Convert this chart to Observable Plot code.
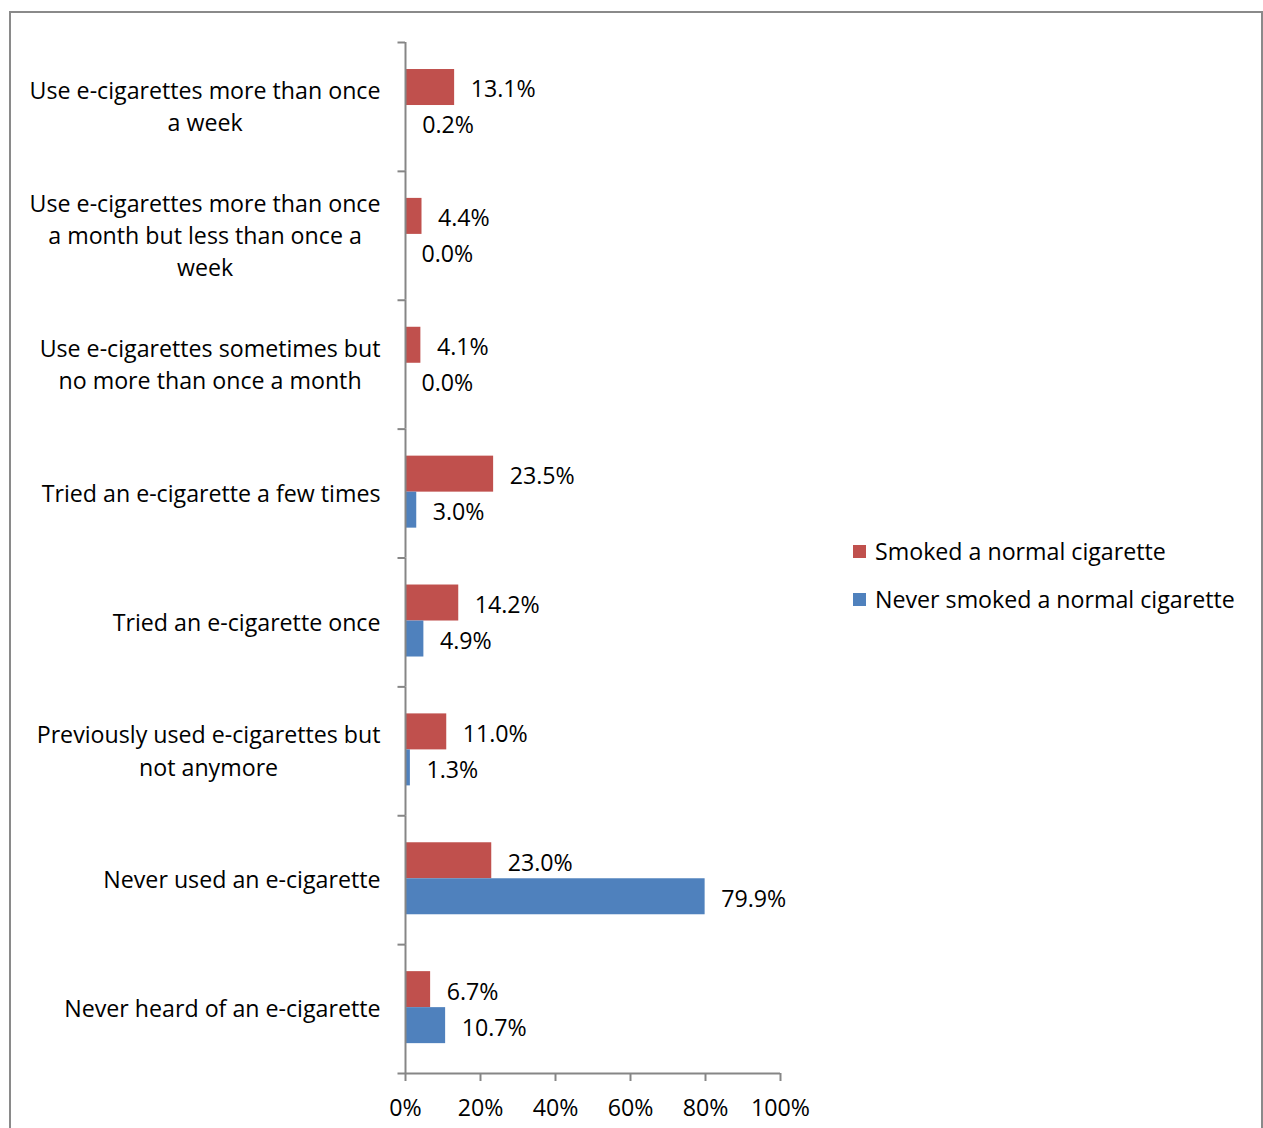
<!DOCTYPE html>
<html><head><meta charset="utf-8">
<script src="https://cdn.jsdelivr.net/npm/d3@7"></script>
<script src="https://cdn.jsdelivr.net/npm/@observablehq/plot@0.6"></script>
<style>
html,body{margin:0;padding:0;background:#fff;overflow:hidden;width:1263px;height:1128px;}
#frame{position:absolute;left:9px;top:11px;width:1254px;height:1300px;border:2px solid #8a8a8a;box-sizing:border-box;}
#chart{position:absolute;left:0;top:0;}
#legend{position:absolute;left:853px;top:527px;font-family:"Open Sans",sans-serif;font-size:23.2px;color:#000;}
#legend .row{display:flex;align-items:center;height:48px;white-space:nowrap;}
#legend .sw{width:13px;height:13px;margin-right:9px;flex:none;}
</style>
</head><body>
<div id="frame"></div>
<div id="chart"></div>
<div id="legend"></div>
<script>
const categories = [
  "Use e-cigarettes more than once a week",
  "Use e-cigarettes more than once a month but less than once a week",
  "Use e-cigarettes sometimes but no more than once a month",
  "Tried an e-cigarette a few times",
  "Tried an e-cigarette once",
  "Previously used e-cigarettes but not anymore",
  "Never used an e-cigarette",
  "Never heard of an e-cigarette"
];
const tickLabels = [
  "Use e-cigarettes more than once\na week",
  "Use e-cigarettes more than once\na month but less than once a\nweek",
  "Use e-cigarettes sometimes but\nno more than once a month",
  "Tried an e-cigarette a few times",
  "Tried an e-cigarette once",
  "Previously used e-cigarettes but\nnot anymore",
  "Never used an e-cigarette",
  "Never heard of an e-cigarette"
];
const seriesNames = ["Smoked a normal cigarette", "Never smoked a normal cigarette"];
const smoked = [13.1, 4.4, 4.1, 23.5, 14.2, 11.0, 23.0, 6.7];
const neverSmoked = [0.2, 0.0, 0.0, 3.0, 4.9, 1.3, 79.9, 10.7];
const seriesColors = ["#C0504D", "#4F81BD"];
const xTicks = [0, 20, 40, 60, 80, 100];

const rows = [];
categories.forEach((c, i) => {
  rows.push({category: c, series: seriesNames[0], value: smoked[i]});
  rows.push({category: c, series: seriesNames[1], value: neverSmoked[i]});
});

const FONT = "'Open Sans', sans-serif";
const AX = "#868686";
const W = 1263, H = 1128, plotLeft = 405, plotRight = 780, plotTop = 42, plotBottom = 1073;
const step = (plotBottom - plotTop) / categories.length;

const plot = Plot.plot({
  width: W, height: H,
  marginLeft: plotLeft, marginRight: W - plotRight, marginTop: plotTop, marginBottom: H - plotBottom,
  style: {fontFamily: FONT, fontSize: "23.2px", color: "#000", background: "transparent", overflow: "visible"},
  x: {domain: [0, 100], axis: null},
  y: {domain: seriesNames, paddingInner: 0, paddingOuter: 0.79, align: 0.475, round: false, axis: null},
  fy: {domain: categories, padding: 0, round: false, axis: null},
  color: {domain: seriesNames, range: seriesColors},
  marks: [
    Plot.barX(rows, {fy: "category", y: "series", x: "value", fill: "series"}),
    Plot.text(rows, {fy: "category", y: "series", x: "value", text: d => d.value.toFixed(1) + "%", dx: 16, dy: 2.5, textAnchor: "start", fill: "#000"}),
    Plot.ruleX([0], {stroke: AX, strokeWidth: 2}),
    Plot.ruleY(categories, {fy: d => d, y: null, x1: -2, x2: 0, dy: -step / 2, stroke: AX, strokeWidth: 2}),
    Plot.ruleY(categories.slice(-1), {fy: d => d, y: null, x1: -2, x2: 100, dy: step / 2, stroke: AX, strokeWidth: 2}),
    Plot.axisX({ticks: xTicks, tickFormat: d => d + "%", tickSize: 8, tickPadding: 18, stroke: AX, strokeWidth: 2, fill: "#000", label: null}),
    Plot.axisFy({anchor: "left", tickSize: 0, tickPadding: 25, dy: -2.2, tickFormat: c => tickLabels[categories.indexOf(c)], lineHeight: 1.4, label: null, fill: "#000"})
  ]
});
document.getElementById("chart").appendChild(plot);

// Center the lines of multi-line category labels within their right-aligned block
plot.querySelectorAll('g[aria-label="fy-axis tick label"] text').forEach(t => {
  const spans = t.querySelectorAll("tspan");
  if (spans.length > 1) {
    let w = 0;
    spans.forEach(s => { w = Math.max(w, s.getComputedTextLength()); });
    t.setAttribute("text-anchor", "middle");
    spans.forEach(s => s.setAttribute("x", -w / 2));
  }
});

const legend = document.getElementById("legend");
seriesNames.forEach((s, i) => {
  const row = document.createElement("div");
  row.className = "row";
  const sw = document.createElement("span");
  sw.className = "sw";
  sw.style.background = seriesColors[i];
  const tx = document.createElement("span");
  tx.textContent = s;
  row.appendChild(sw); row.appendChild(tx);
  legend.appendChild(row);
});
</script>
</body></html>
